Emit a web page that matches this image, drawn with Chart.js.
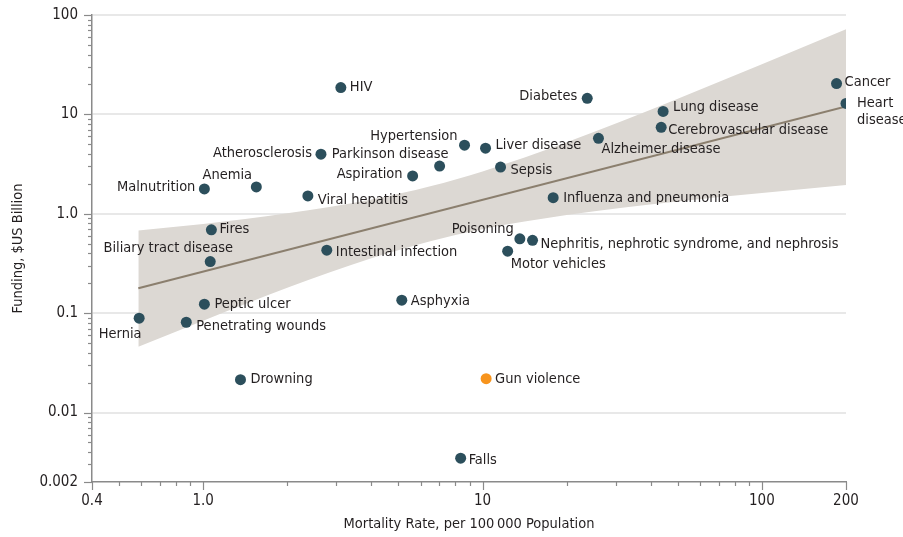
<!DOCTYPE html>
<html>
<head>
<meta charset="utf-8">
<script src="https://cdn.jsdelivr.net/npm/chart.js@4.4.1/dist/chart.umd.min.js"></script>
<style>
    html, body { margin: 0; padding: 0; background: #fff; }
    #wrap { width: 903px; height: 537px; position: relative; }
</style>
</head>
<body>
<div id="wrap"><canvas id="chart"></canvas></div>
<script>
/* mortality vs. research funding, log-log */

const conditions = [
    'Hernia', 'Penetrating wounds', 'Peptic ulcer', 'Biliary tract disease', 'Fires',
    'Malnutrition', 'Anemia', 'Drowning', 'Viral hepatitis', 'Atherosclerosis',
    'HIV', 'Intestinal infection', 'Asphyxia', 'Aspiration', 'Parkinson disease',
    'Hypertension', 'Liver disease', 'Sepsis', 'Gun violence', 'Falls',
    'Poisoning', 'Nephritis, nephrotic syndrome, and nephrosis', 'Motor vehicles',
    'Influenza and pneumonia', 'Diabetes', 'Alzheimer disease', 'Lung disease',
    'Cerebrovascular disease', 'Cancer', 'Heart\ndisease'
];
const mortality = [
    0.59, 0.87, 1.01, 1.06, 1.07,
    1.01, 1.55, 1.36, 2.37, 2.64,
    3.11, 2.77, 5.14, 5.62, 7.02,
    8.62, 10.25, 11.6, 10.3, 8.35,
    13.6, 15.1, 12.3,
    17.9, 23.7, 26.0, 44.3,
    43.6, 185, 200
];
const funding = [
    0.089, 0.081, 0.123, 0.33, 0.69,
    1.78, 1.86, 0.0214, 1.51, 3.98,
    18.6, 0.43, 0.135, 2.40, 3.02,
    4.90, 4.57, 2.95, 0.0219, 0.00347,
    0.56, 0.54, 0.42,
    1.45, 14.5, 5.75, 10.7,
    7.41, 20.4, 12.9
];
const highlighted = 'Gun violence';

// fitted line and its confidence band
const fitX = [0.586, 200];
const fitY = [0.178, 12.0];
const bandX     = [0.586, 1,    2,    4,     6.5,  10,   20,   50,   100,  200];
const bandUpper = [0.68,  0.79, 1.01, 1.39,  1.89, 2.67, 5.25, 14.4, 32,   72];
const bandLower = [0.046, 0.084, 0.18, 0.356, 0.53, 0.70, 0.97, 1.33, 1.62, 1.95];

// tick labels
const yTickValues = [0.002, 0.01, 0.1, 1, 10, 100];
const yTickText   = ['0.002', '0.01', '0.1', '1.0', '10', '100'];
const xTickValues = [0.4, 1, 10, 100, 200];
const xTickText   = ['0.4', '1.0', '10', '100', '200'];

// label placement: [align, dx, dy]
const labelPlace = {
    'Hernia': ['center', -19, 16],
    'Penetrating wounds': ['left', 10, 4],
    'Peptic ulcer': ['left', 10, 0],
    'Biliary tract disease': ['center', -42, -13],
    'Fires': ['left', 8, -1],
    'Malnutrition': ['right', -9, -2],
    'Anemia': ['center', -29, -12],
    'Drowning': ['left', 10, 0],
    'Viral hepatitis': ['left', 10, 4],
    'Atherosclerosis': ['right', -9, -1],
    'HIV': ['left', 9, 0],
    'Intestinal infection': ['left', 9, 2],
    'Asphyxia': ['left', 9, 1],
    'Aspiration': ['right', -10, -2],
    'Parkinson disease': ['right', 9, -12],
    'Hypertension': ['right', -7, -9],
    'Liver disease': ['left', 10, -3],
    'Sepsis': ['left', 10, 3],
    'Gun violence': ['left', 9, 1],
    'Falls': ['left', 8, 2],
    'Poisoning': ['right', -6, -10],
    'Nephritis, nephrotic syndrome, and nephrosis': ['left', 8, 4],
    'Motor vehicles': ['left', 3, 13],
    'Influenza and pneumonia': ['left', 10, 1],
    'Diabetes': ['right', -10, -2],
    'Alzheimer disease': ['left', 3, 11],
    'Lung disease': ['left', 10, -4],
    'Cerebrovascular disease': ['left', 7, 3],
    'Cancer': ['left', 8, -1],
    'Heart\ndisease': ['left', 11, 0]
};

const FONT = "'Liberation Sans Narrow', 'DejaVu Sans Condensed', 'Roboto', sans-serif";
const TEAL = '#2c4f5c';
const ORANGE = '#f7941d';
const AXIS = '#8a8a8a';

const isMajor = (v, list) => list.some(m => Math.abs(m - v) / m < 1e-6);

function logTicks(min, max) {
    const out = [];
    for (let e = -3; e <= 2; e++) {
        for (let m = 1; m <= 9; m++) {
            const v = +(m * Math.pow(10, e)).toPrecision(6);
            if (v >= min - 1e-12 && v <= max + 1e-12) out.push(v);
        }
    }
    return out;
}

// minor/major tick marks and point labels
const decorPlugin = {
    id: 'decor',
    afterDraw(chart) {
        const { ctx, chartArea, scales } = chart;
        ctx.save();
        ctx.strokeStyle = AXIS;
        ctx.lineWidth = 1.2;
        scales.y.ticks.forEach(t => {
            const py = Math.round(scales.y.getPixelForValue(t.value)) + 0.5;
            const len = isMajor(t.value, yTickValues) ? 8 : 4;
            ctx.beginPath();
            ctx.moveTo(chartArea.left - len, py);
            ctx.lineTo(chartArea.left, py);
            ctx.stroke();
        });
        scales.x.ticks.forEach(t => {
            const px = Math.round(scales.x.getPixelForValue(t.value)) + 0.5;
            const len = isMajor(t.value, xTickValues) ? 8 : 4;
            ctx.beginPath();
            ctx.moveTo(px, chartArea.bottom);
            ctx.lineTo(px, chartArea.bottom + len);
            ctx.stroke();
        });
        ctx.restore();
    },
    afterDatasetsDraw(chart) {
        const { ctx, scales } = chart;
        ctx.save();
        ctx.font = '14.5px ' + FONT;
        ctx.fillStyle = '#231f20';
        ctx.textBaseline = 'middle';
        conditions.forEach((name, i) => {
            const [align, dx, dy] = labelPlace[name];
            const px = scales.x.getPixelForValue(mortality[i]);
            const py = scales.y.getPixelForValue(funding[i]);
            ctx.textAlign = align;
            name.split('\n').forEach((line, k) => {
                ctx.fillText(line, px + dx, py + dy + k * 17);
            });
        });
        ctx.restore();
    }
};

const pts = conditions.map((c, i) => ({ x: mortality[i], y: funding[i] }));

new Chart(document.getElementById('chart'), {
    type: 'scatter',
    data: {
        datasets: [
            {
                data: pts,
                order: 0,
                pointRadius: 5.5,
                pointBorderWidth: 0,
                pointBackgroundColor: conditions.map(c => c === highlighted ? ORANGE : TEAL),
                showLine: false
            },
            {
                data: fitX.map((x, i) => ({ x, y: fitY[i] })),
                order: 1,
                showLine: true,
                borderColor: '#8b7f6e',
                borderWidth: 2,
                pointRadius: 0
            },
            {
                data: bandX.map((x, i) => ({ x, y: bandUpper[i] })),
                order: 2,
                showLine: true,
                fill: '+1',
                backgroundColor: '#dcd8d3',
                borderWidth: 0,
                pointRadius: 0,
                cubicInterpolationMode: 'monotone'
            },
            {
                data: bandX.map((x, i) => ({ x, y: bandLower[i] })),
                order: 3,
                showLine: true,
                borderWidth: 0,
                pointRadius: 0,
                cubicInterpolationMode: 'monotone'
            }
        ]
    },
    options: {
        responsive: true,
        maintainAspectRatio: false,
        animation: false,
        events: [],
        layout: { padding: { top: 13, right: 57, left: 0, bottom: 0 } },
        plugins: { legend: { display: false }, tooltip: { enabled: false } },
        scales: {
            x: {
                type: 'logarithmic',
                min: 0.4,
                max: 200,
                afterBuildTicks: s => { s.ticks = logTicks(0.4, 200).map(v => ({ value: v })); },
                afterFit: s => { s.height = 55; },
                border: { display: true, color: AXIS, width: 1.5 },
                grid: { drawOnChartArea: false, tickLength: 8, tickColor: 'rgba(0,0,0,0)' },
                ticks: {
                    autoSkip: false,
                    maxRotation: 0,
                    padding: 2,
                    color: '#231f20',
                    font: { family: FONT, size: 15 },
                    callback: v => {
                        const k = xTickValues.findIndex(m => Math.abs(m - v) / m < 1e-6);
                        return k >= 0 ? xTickText[k] : '';
                    }
                },
                title: {
                    display: true,
                    text: 'Mortality Rate, per 100\u2009000 Population',
                    color: '#231f20',
                    font: { family: FONT, size: 14.5 },
                    padding: { top: 0, bottom: 4 }
                }
            },
            y: {
                type: 'logarithmic',
                min: 0.002,
                max: 100,
                afterBuildTicks: s => { s.ticks = logTicks(0.002, 100).map(v => ({ value: v })); },
                afterFit: s => { s.width = 92; },
                border: { display: true, color: AXIS, width: 1.5 },
                grid: {
                    tickLength: 8,
                    tickColor: 'rgba(0,0,0,0)',
                    lineWidth: 2,
                    color: c => {
                        const v = c.tick && c.tick.value;
                        return v && v > 0.005 && isMajor(v, yTickValues) ? '#e8e8e8' : 'rgba(0,0,0,0)';
                    }
                },
                ticks: {
                    autoSkip: false,
                    padding: 6,
                    color: '#231f20',
                    font: { family: FONT, size: 15 },
                    callback: v => {
                        const k = yTickValues.findIndex(m => Math.abs(m - v) / m < 1e-6);
                        return k >= 0 ? yTickText[k] : '';
                    }
                },
                title: {
                    display: true,
                    text: 'Funding, $US Billion',
                    color: '#231f20',
                    font: { family: FONT, size: 14.5 },
                    padding: { top: 10, bottom: 0 }
                }
            }
        }
    },
    plugins: [decorPlugin]
});
</script>
</body>
</html>
